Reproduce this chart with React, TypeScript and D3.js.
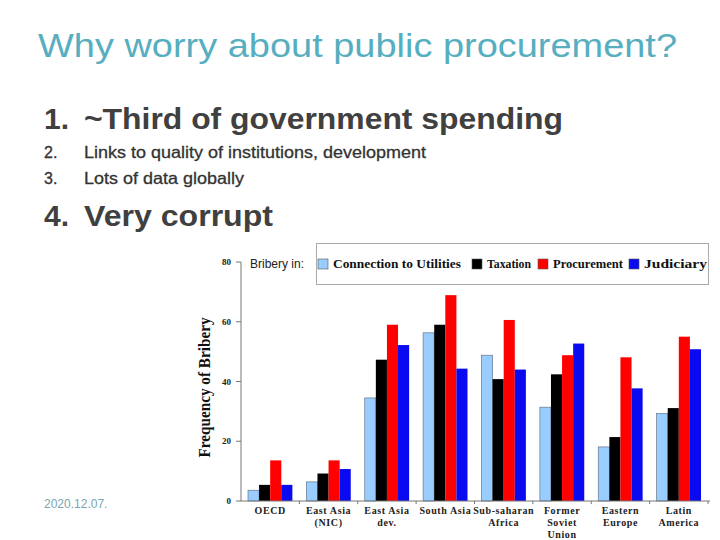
import * as d3 from 'd3';

// Regions (x categories), multiline labels
const regions = ['OECD', 'East Asia (NIC)', 'East Asia dev.', 'South Asia', 'Sub-saharan Africa', 'Former Soviet Union', 'Eastern Europe', 'Latin America'];
const regionLabels = [['OECD'], ['East Asia', '(NIC)'], ['East Asia', 'dev.'], ['South Asia'], ['Sub-saharan', 'Africa'], ['Former', 'Soviet', 'Union'], ['Eastern', 'Europe'], ['Latin', 'America']];

const series = ['Connection to Utilities', 'Taxation', 'Procurement', 'Judiciary'];
const seriesColors = ['#99ccff', '#000000', '#ff0000', '#0a0af0'];

const utilities = [3.6, 6.4, 34.5, 56.3, 48.8, 31.4, 18.1, 29.3];
const taxation = [5.4, 9.2, 47.3, 59, 40.8, 42.4, 21.4, 31.1];
const procurement = [13.6, 13.6, 59, 68.9, 60.6, 48.8, 48.1, 55];
const judiciary = [5.4, 10.7, 52.2, 44.3, 44, 52.7, 37.7, 50.8];
const seriesValues = [utilities, taxation, procurement, judiciary];

const yTicks = [0, 20, 40, 60, 80];

const bullets = ['Links to quality of institutions, development', 'Lots of data globally'];

export default function App() {
  const width = 720;
  const height = 540;

  const x0 = d3.scaleBand<string>().domain(regions).range([241, 708]);
  const x1 = d3.scaleBand<string>().domain(series).range([7, x0.bandwidth() - 7]);
  const y = d3.scaleLinear().domain([0, 80]).range([501, 262]);

  const serif = '"Liberation Serif", "DejaVu Serif", serif';
  const sans = '"Liberation Sans", Arial, sans-serif';

  // legend layout (x of swatch, text width)
  const legendX = [318, 472, 538, 629];
  const legendW = [128, 44, 70, 63];
  const bulletW = [342, 160];

  return (
    <svg width={width} height={height} style={{ position: 'absolute', left: 0, top: 0, background: '#fff' }}>
      {/* slide text */}
      <text x={38} y={57} fontFamily={sans} fontSize={33} fill="#56aec0" textLength={639} lengthAdjust="spacingAndGlyphs">
        Why worry about public procurement?
      </text>
      <text x={44} y={129} fontFamily={sans} fontSize={30} fill="#404040" fontWeight="bold">1.</text>
      <text x={84} y={129} fontFamily={sans} fontSize={30} fill="#404040" fontWeight="bold" textLength={479} lengthAdjust="spacingAndGlyphs">
        ~Third of government spending
      </text>
      {bullets.map((b, i) => (
        <g key={b}>
          <text x={44} y={158 + i * 26} fontFamily={sans} fontSize={16} fill="#333" stroke="#333" strokeWidth={0.3}>{`${i + 2}.`}</text>
          <text x={84} y={158 + i * 26} fontFamily={sans} fontSize={16.5} fill="#333" stroke="#333" strokeWidth={0.3} textLength={bulletW[i]} lengthAdjust="spacingAndGlyphs">{b}</text>
        </g>
      ))}
      <text x={44} y={226} fontFamily={sans} fontSize={30} fill="#404040" fontWeight="bold">4.</text>
      <text x={84} y={226} fontFamily={sans} fontSize={30} fill="#404040" fontWeight="bold" textLength={189} lengthAdjust="spacingAndGlyphs">
        Very corrupt
      </text>
      <text x={44} y={508} fontFamily={sans} fontSize={12} fill="#7aa6ae">2020.12.07.</text>

      {/* chart */}
      <g>
        {/* legend */}
        <text x={250} y={268} fontFamily={sans} fontSize={12} fill="#222">Bribery in:</text>
        <rect x={316.5} y={243.5} width={392} height={41} fill="#fff" stroke="#aaa" />
        {series.map((s, i) => (
          <g key={s}>
            <rect x={legendX[i]} y={259} width={10} height={10} fill={seriesColors[i]} stroke="#555" strokeWidth={0.6} />
            <text x={legendX[i] + 15} y={268} fontFamily={serif} fontWeight="bold" fontSize={13} fill="#111" textLength={legendW[i]} lengthAdjust="spacingAndGlyphs">{s}</text>
          </g>
        ))}

        {/* y axis */}
        <line x1={241} x2={241} y1={y(80)} y2={y(0)} stroke="#777" />
        {yTicks.map(t => (
          <g key={t}>
            <line x1={236} x2={241} y1={y(t)} y2={y(t)} stroke="#777" />
            <text x={231} y={y(t) + 3} textAnchor="end" fontFamily={serif} fontWeight="bold" fontSize={9} fill="#222">{t}</text>
          </g>
        ))}
        <text transform={`translate(210,${y(38)}) rotate(-90)`} textAnchor="middle" fontFamily={serif} fontWeight="bold" fontSize={16} fill="#111" textLength={140} lengthAdjust="spacingAndGlyphs">
          Frequency of Bribery
        </text>

        {/* bars */}
        {regions.map((r, ri) => (
          <g key={r} transform={`translate(${x0(r)},0)`}>
            {series.map((s, si) => (
              <rect
                key={s}
                x={x1(s)}
                y={y(seriesValues[si][ri])}
                width={x1.bandwidth()}
                height={y(0) - y(seriesValues[si][ri])}
                fill={seriesColors[si]}
                stroke={si === 0 ? '#667788' : 'none'}
                strokeWidth={0.7}
              />
            ))}
          </g>
        ))}

        {/* x axis */}
        <line x1={241} x2={710} y1={y(0)} y2={y(0)} stroke="#777" />
        {regions.map(r => (
          <line key={r} x1={(x0(r) ?? 0) + x0.bandwidth()} x2={(x0(r) ?? 0) + x0.bandwidth()} y1={y(0)} y2={y(0) + 3} stroke="#777" />
        ))}
        {regionLabels.map((lines, ri) => (
          <text key={ri} x={(x0(regions[ri]) ?? 0) + x0.bandwidth() / 2} y={514} textAnchor="middle" fontFamily={serif} fontWeight="bold" fontSize={10} letterSpacing={0.6} fill="#222">
            {lines.map((l, li) => (
              <tspan key={li} x={(x0(regions[ri]) ?? 0) + x0.bandwidth() / 2} dy={li === 0 ? 0 : 12}>{l}</tspan>
            ))}
          </text>
        ))}
      </g>
    </svg>
  );
}
